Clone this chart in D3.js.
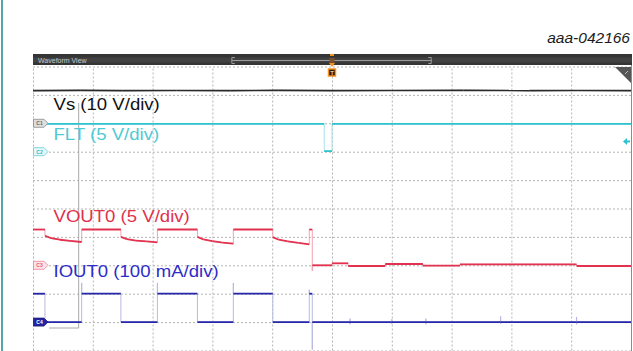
<!DOCTYPE html>
<html>
<head>
<meta charset="utf-8">
<script src="https://cdn.jsdelivr.net/npm/d3@7"></script>
<style>
  html, body { margin: 0; padding: 0; background: #fff; }
  svg { display: block; }
</style>
</head>
<body>
<svg id="scope" width="633" height="351"></svg>
<script>
// ---- Scope settings (divisions) ----
const timeDivisions = d3.range(0, 11);          // 10 horizontal divisions
const levelDivisions = d3.range(0, 11);         // vertical divisions shown
const triggerTimeDiv = 5.0;

// ---- Channel settings ----
const channelNames = ["C1", "C2", "C3", "C4"];
const channelLabels = ["Vs (10 V/div)", "FLT (5 V/div)", "VOUT0 (5 V/div)", "IOUT0 (100 mA/div)"];
const unitsPerDiv = [10, 5, 5, 100];            // V/div, V/div, V/div, mA/div
const groundDiv = [2, 3, 7, 9];                 // ground reference, divisions from top
const fltTriggerLevel = 1.8;                    // V

// ---- Acquired traces: [time (div), value (V or mA)] ----
const vsTrace = [
  [0, 11.5], [0.8, 11.6], [1.5, 11.5], [2.4, 11.55], [3.3, 11.5], [4.1, 11.6],
  [5.0, 11.5], [6.0, 11.55], [7.2, 11.6], [8.3, 11.5], [9.1, 11.55], [10, 11.5]
];
const fltTrace = [
  [0, 4.9], [4.87, 4.9], [4.87, 0.1], [5.0, 0.1], [5.0, 4.9], [10, 4.9]
];
const vout0Trace = [
  [0, 6.3], [0.20, 6.3], [0.20, 5.2], [0.30, 4.8], [0.45, 4.5], [0.62, 4.3], [0.814, 4.1],
  [0.814, 6.3], [1.47, 6.3], [1.47, 5.0], [1.57, 4.6], [1.72, 4.35], [1.90, 4.2], [2.08, 4.05],
  [2.08, 6.3], [2.75, 6.3], [2.75, 5.0], [2.85, 4.55], [3.00, 4.25], [3.17, 4.0], [3.35, 3.8],
  [3.35, 6.3], [4.01, 6.3], [4.01, 4.95], [4.11, 4.5], [4.26, 4.2], [4.44, 3.95], [4.62, 3.7],
  [4.62, 6.3], [4.67, 6.3], [4.67, -1.0], [4.67, 0.0], [5.0, 0.0],
  [5.0, 0.35], [5.27, 0.35], [5.27, -0.12], [5.89, -0.12], [5.89, 0.23], [6.52, 0.23],
  [6.52, -0.05], [7.14, -0.05], [7.14, 0.18], [9.09, 0.18], [9.09, -0.12], [10, -0.12]
];
const iout0Trace = [
  [0, 100], [0.20, 100], [0.20, 0], [0.814, 0], [0.814, 138], [0.814, 100],
  [1.47, 100], [1.47, 0], [2.08, 0], [2.08, 138], [2.08, 100],
  [2.75, 100], [2.75, 0], [3.35, 0], [3.35, 138], [3.35, 100],
  [4.01, 100], [4.01, 0], [4.62, 0], [4.62, 114], [4.62, 100],
  [4.67, 100], [4.67, -97], [4.67, 0],
  [5.30, 0], [5.30, 12], [5.30, -8], [5.30, 0],
  [6.00, 0], [6.00, 10], [6.00, -6], [6.00, 0],
  [6.57, 0], [6.57, 12], [6.57, -8], [6.57, 0],
  [7.82, 0], [7.82, 20], [7.82, -6], [7.82, 0],
  [9.09, 0], [9.09, 18], [9.09, -8], [9.09, 0],
  [10, 0]
];

const traces = [vsTrace, fltTrace, vout0Trace, iout0Trace];
const traceColors = ["#2a2a2a", "#2cc3cf", "#e2324f", "#2626a8"];
const edgeColors  = ["#8a8a8a", "#a6e4ea", "#f3a3b1", "#b8b8e4"];
const labelColors = ["#111111", "#4fcad5", "#e0304b", "#2c2cc8"];

// ---- Layout ----
const svg = d3.select("#scope");
const W = 633, H = 351;
const plot = { left: 33, right: 631, top: 66.5, bottom: 350.5 };

const x = d3.scaleLinear().domain([0, 10]).range([plot.left, plot.right]);
const yDiv = d3.scaleLinear().domain([0, 10]).range([plot.top, plot.bottom]);
const yFor = ch => v => yDiv(groundDiv[ch] - v / unitsPerDiv[ch]);

// page frame line on the left
svg.append("line")
  .attr("x1", 2).attr("x2", 2).attr("y1", 0).attr("y2", H)
  .attr("stroke", "#1c8890").attr("stroke-width", 1.5);

// figure id
svg.append("text")
  .attr("x", 630).attr("y", 43)
  .attr("text-anchor", "end")
  .attr("font-family", "Liberation Sans, Arial, sans-serif")
  .attr("font-style", "italic")
  .attr("font-size", 15.5)
  .attr("fill", "#1a1a1a")
  .text("aaa-042166");

// waveform area background
svg.append("rect")
  .attr("x", plot.left).attr("y", 54).attr("width", plot.right - plot.left).attr("height", H - 54)
  .attr("fill", "#ffffff");

// grid via axes
const gridG = svg.append("g");
gridG.append("g")
  .attr("transform", `translate(0,${plot.bottom})`)
  .call(d3.axisBottom(x).tickValues(timeDivisions).tickSize(-(plot.bottom - plot.top)).tickFormat(""))
  .call(g => g.select(".domain").remove());
gridG.append("g")
  .attr("transform", `translate(${plot.left},0)`)
  .call(d3.axisLeft(yDiv).tickValues(levelDivisions).tickSize(-(plot.right - plot.left)).tickFormat(""))
  .call(g => g.select(".domain").remove());
gridG.selectAll(".tick line")
  .attr("stroke", "#b4b4b4")
  .attr("stroke-width", 1)
  .attr("stroke-dasharray", "2,2");

// right border
svg.append("line")
  .attr("x1", plot.right + 0.5).attr("x2", plot.right + 0.5).attr("y1", 54).attr("y2", H)
  .attr("stroke", "#8c8c8c").attr("stroke-width", 1);

// title bar
svg.append("rect")
  .attr("x", plot.left).attr("y", 54).attr("width", plot.right - plot.left + 1).attr("height", 11)
  .attr("fill", "#353535");
svg.append("rect")
  .attr("x", plot.left).attr("y", 57.5).attr("width", plot.right - plot.left + 1).attr("height", 5)
  .attr("fill", "#424242");
svg.append("text")
  .attr("x", 38).attr("y", 62.5)
  .attr("font-family", "Liberation Sans, Arial, sans-serif")
  .attr("font-size", 7)
  .attr("fill", "#c8c8c8")
  .text("Waveform View");

// record overview bracket in the title bar
const bracket = [x(3.325), x(6.66)];
const bg = svg.append("g").attr("stroke", "#9a9a9a").attr("stroke-width", 1).attr("fill", "none");
bg.append("line").attr("x1", bracket[0]).attr("x2", bracket[1]).attr("y1", 60.5).attr("y2", 60.5);
bracket.forEach((bx, i) => {
  bg.append("path").attr("d", `M${bx + (i ? -3 : 3)},57.5H${bx}V63.5H${bx + (i ? -3 : 3)}`);
});

// trigger position marker
const tx = x(triggerTimeDiv);
svg.append("rect").attr("x", tx - 2).attr("y", 54).attr("width", 4).attr("height", 2).attr("fill", "#f39221");
svg.append("rect").attr("x", tx - 2.5).attr("y", 58).attr("width", 5).attr("height", 5).attr("fill", "#7a5030");
svg.append("path").attr("d", `M${tx - 3},63H${tx + 3}L${tx},67Z`).attr("fill", "#f39221");
svg.append("rect")
  .attr("x", tx - 3.5).attr("y", 69).attr("width", 7).attr("height", 7)
  .attr("fill", "#2a1a0a").attr("stroke", "#f39221").attr("stroke-width", 1.5);
svg.append("text")
  .attr("x", tx).attr("y", 75).attr("text-anchor", "middle")
  .attr("font-family", "Liberation Sans, Arial, sans-serif").attr("font-size", 6).attr("font-weight", "bold")
  .attr("fill", "#f6c890").text("T");

// corner triangle
svg.append("path")
  .attr("d", `M${plot.right - 16},67H${plot.right}V83Z`)
  .attr("fill", "#555555");
svg.append("path")
  .attr("d", `M${plot.right - 6},74l3,-3`)
  .attr("stroke", "#bbbbbb").attr("stroke-width", 1);

// overlay box edge
svg.append("path")
  .attr("d", "M78.7,103V328H49")
  .attr("fill", "none").attr("stroke", "#a8a8a8").attr("stroke-width", 1);

// traces: fast edges drawn thin and pale, settled segments bold
const line = d3.line().x(d => x(d[0]));
traces.forEach((tr, ch) => {
  const yc = yFor(ch);
  line.y(d => yc(d[1]));
  const g = svg.append("g").attr("fill", "none");
  g.append("path")
    .attr("d", line(tr))
    .attr("stroke", edgeColors[ch])
    .attr("stroke-width", 1);
  const runs = [];
  for (let i = 1; i < tr.length; i++) {
    if (tr[i][0] !== tr[i - 1][0]) runs.push([tr[i - 1], tr[i]]);
  }
  g.selectAll("path.run")
    .data(runs)
    .join("path")
    .attr("class", "run")
    .attr("d", d => line(d))
    .attr("stroke", traceColors[ch])
    .attr("stroke-width", ch === 0 ? 1.6 : 1.8)
    .attr("stroke-linecap", "butt");
});

// channel ground markers
const tagFill = ["#dedede", "#e4f8fa", "#fde3e7", "#2424a0"];
const tagStroke = ["#8a8a8a", "#62cdd6", "#ee8396", "#1c1c80"];
const tagText = ["#666666", "#3bb8c4", "#e06078", "#ffffff"];
channelNames.forEach((name, ch) => {
  const yy = yDiv(groundDiv[ch]);
  svg.append("path")
    .attr("d", `M${plot.left + 0.5},${yy - 4}H${plot.left + 11}L${plot.left + 15},${yy}L${plot.left + 11},${yy + 4}H${plot.left + 0.5}Z`)
    .attr("fill", tagFill[ch]).attr("stroke", tagStroke[ch]).attr("stroke-width", 0.8);
  svg.append("text")
    .attr("x", plot.left + 6.5).attr("y", yy + 2)
    .attr("text-anchor", "middle")
    .attr("font-family", "Liberation Sans, Arial, sans-serif")
    .attr("font-size", 5).attr("font-weight", "bold")
    .attr("fill", tagText[ch]).text(name);
});

// FLT trigger level arrow on the right
const ty = yFor(1)(fltTriggerLevel);
svg.append("path")
  .attr("d", `M${plot.right - 8},${ty}L${plot.right - 4},${ty - 3.5}V${ty + 3.5}Z`)
  .attr("fill", traceColors[1]);
svg.append("line")
  .attr("x1", plot.right - 5).attr("x2", plot.right - 1).attr("y1", ty).attr("y2", ty)
  .attr("stroke", traceColors[1]).attr("stroke-width", 2);

// channel annotations
const labelBaselines = [110, 140, 221.7, 277.3];
channelLabels.forEach((txt, ch) => {
  svg.append("text")
    .attr("transform", `translate(53.5,${labelBaselines[ch]}) scale(1.14,1)`)
    .attr("font-family", "Liberation Sans, Arial, sans-serif")
    .attr("font-size", 16.3)
    .attr("fill", labelColors[ch])
    .text(txt);
});
</script>
</body>
</html>
